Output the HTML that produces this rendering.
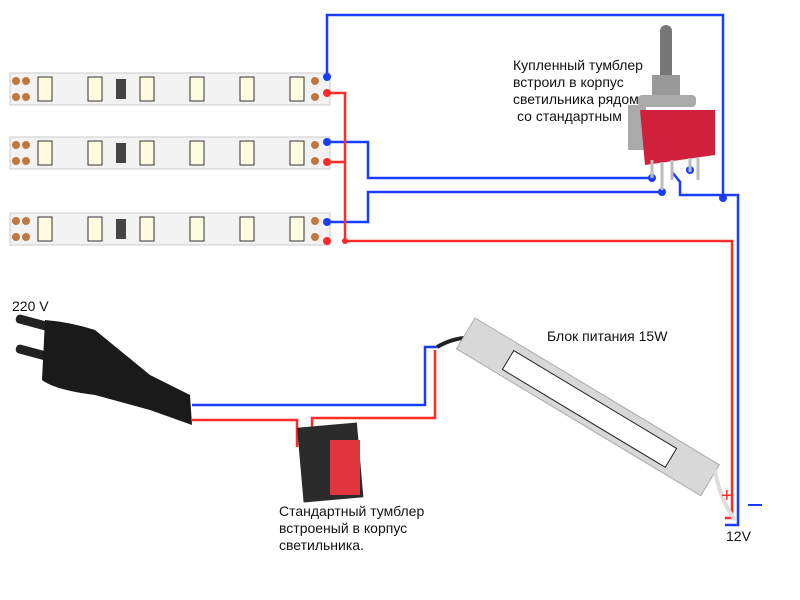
<!DOCTYPE html>
<html><head><meta charset="utf-8"><style>
body{margin:0;background:#fff;width:800px;height:600px;overflow:hidden}
svg{display:block}
text{font-family:"Liberation Sans",sans-serif;font-size:14px;fill:#111}
</style></head><body>
<svg width="800" height="600" viewBox="0 0 800 600">
<defs>
<g id="strip">
<rect x="10" y="0" width="320" height="32" fill="#f2f2f2" stroke="#ccc"/>
<circle cx="16" cy="8" r="4" fill="#c07840"/><circle cx="16" cy="24" r="4" fill="#c07840"/>
<circle cx="26" cy="8" r="4" fill="#c07840"/><circle cx="26" cy="24" r="4" fill="#c07840"/>
<rect x="38" y="4" width="14" height="24" fill="#fffbe0" stroke="#333"/>
<rect x="88" y="4" width="14" height="24" fill="#fffbe0" stroke="#333"/>
<rect x="116" y="6" width="10" height="20" fill="#444"/>
<rect x="140" y="4" width="14" height="24" fill="#fffbe0" stroke="#333"/>
<rect x="190" y="4" width="14" height="24" fill="#fffbe0" stroke="#333"/>
<rect x="240" y="4" width="14" height="24" fill="#fffbe0" stroke="#333"/>
<rect x="290" y="4" width="14" height="24" fill="#fffbe0" stroke="#333"/>
<circle cx="315" cy="8" r="4" fill="#c07840"/><circle cx="315" cy="24" r="4" fill="#c07840"/>
</g>
</defs>
<use href="#strip" x="0" y="73"/>
<use href="#strip" x="0" y="137"/>
<use href="#strip" x="0" y="213"/>
<g fill="none" stroke-width="2.5">
<polyline stroke="#1a3cff" points="327,77 327,15 723,15 723,198"/>
<polyline stroke="#1a3cff" points="327,142 368,142 368,178 652,178 652,170"/>
<polyline stroke="#1a3cff" points="327,222 368,222 368,192 662,192 662,182"/>
<polyline stroke="#1a3cff" points="672,172 680,182 680,195 738,195 738,525 725,525"/>
<polyline stroke="#ff2a2a" points="327,93 345,93 345,241 732,241 732,518 725,518"/>
<polyline stroke="#ff2a2a" points="327,162 345,162"/>
<polyline stroke="#1a3cff" points="192,405 425,405 425,347 437,347"/>
<polyline stroke="#ff2a2a" points="192,420 297,420 297,447"/>
<polyline stroke="#ff2a2a" points="312,440 312,418 435,418 435,350"/>
</g>
<g fill="#1a3cff"><circle cx="327" cy="77" r="4"/><circle cx="327" cy="142" r="4"/><circle cx="327" cy="222" r="4"/><circle cx="723" cy="198" r="4"/><circle cx="652" cy="178" r="4"/><circle cx="662" cy="192" r="4"/><circle cx="690" cy="170" r="4"/></g>
<g fill="#ff2a2a"><circle cx="327" cy="93" r="4"/><circle cx="327" cy="162" r="4"/><circle cx="327" cy="241" r="4"/><circle cx="345" cy="241" r="3"/></g>
<!-- toggle switch -->
<rect x="660" y="25" width="12" height="70" rx="6" fill="#777"/>
<rect x="652" y="75" width="28" height="25" fill="#999"/>
<rect x="638" y="95" width="58" height="12" rx="4" fill="#aaa"/>
<rect x="628" y="105" width="18" height="45" fill="#aaa"/>
<polygon points="640,110 715,110 715,155 645,165" fill="#d0203c"/>
<g stroke="#bbb" stroke-width="3"><line x1="652" y1="160" x2="652" y2="178"/><line x1="662" y1="162" x2="662" y2="190"/><line x1="672" y1="160" x2="672" y2="180"/><line x1="690" y1="158" x2="690" y2="172"/><line x1="698" y1="158" x2="698" y2="180"/></g>
<!-- plug -->
<rect x="15" y="320" width="45" height="9" rx="4" fill="#222" transform="rotate(15 40 325)"/>
<rect x="15" y="350" width="45" height="9" rx="4" fill="#222" transform="rotate(15 40 355)"/>
<path d="M45,320 Q70,322 95,330 L150,375 L190,395 L192,425 L150,410 L95,395 Q55,390 42,380 Z" fill="#1a1a1a"/>
<!-- rocker switch -->
<rect x="300" y="425" width="60" height="75" fill="#2b2b2b" transform="rotate(-5 330 460)"/>
<rect x="330" y="440" width="30" height="55" fill="#e0343f"/>
<!-- PSU -->
<path d="M437,347 Q455,337 470,338" stroke="#222" stroke-width="4" fill="none"/>
<g transform="translate(475,318) rotate(31)">
<rect x="0" y="0" width="285" height="36" fill="#d8d8d8" stroke="#aaa"/>
<rect x="50" y="8" width="190" height="22" fill="#fff" stroke="#222"/>
</g>
<path d="M715,470 Q720,500 735,520" stroke="#ddd" stroke-width="4" fill="none"/>
<text x="513" y="70">Купленный тумблер</text>
<text x="513" y="87">встроил в корпус</text>
<text x="513" y="104">светильника рядом</text>
<text x="517" y="121">со стандартным</text>
<text x="12" y="311">220 V</text>
<text x="547" y="341">Блок питания 15W</text>
<text x="279" y="516">Стандартный тумблер</text>
<text x="279" y="533">встроеный в корпус</text>
<text x="279" y="550">светильника.</text>
<text x="726" y="541">12V</text>
<text x="721" y="502" style="fill:#ff2a2a;font-size:20px">+</text>
<rect x="748" y="504" width="14" height="2" fill="#1a3cff"/>
</svg>
</body></html>
